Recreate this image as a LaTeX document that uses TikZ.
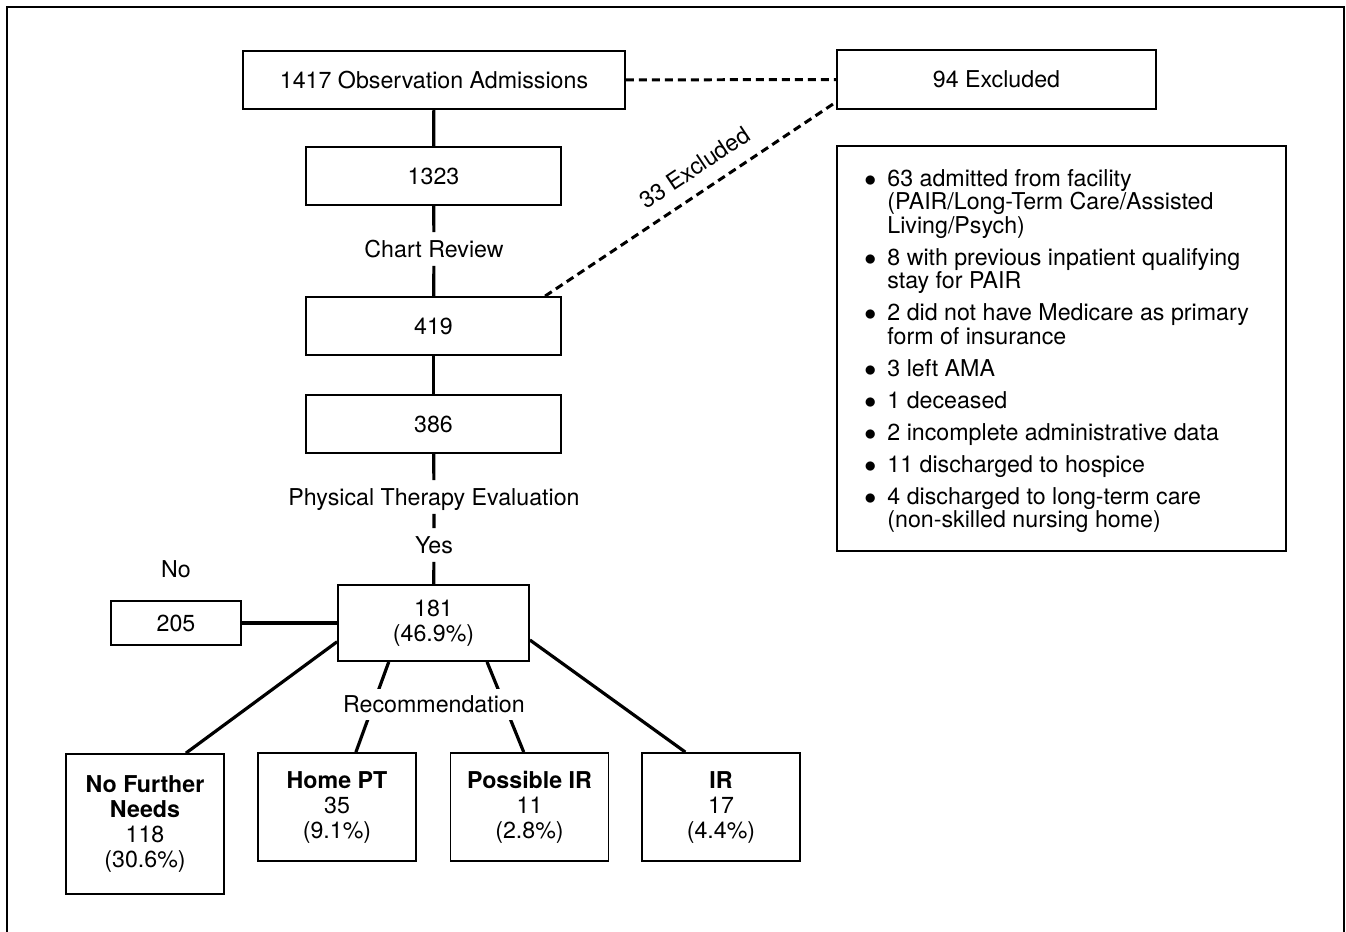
\documentclass[tikz,border=0pt]{standalone}
\usepackage{fontspec}
\setmainfont{TeX Gyre Heros}
\usetikzlibrary{arrows,shapes}
\newcommand{\flowfont}{\fontsize{11.6bp}{12.5bp}\selectfont}
\newcommand{\reasonbullet}{\makebox[11.5bp][l]{$\bullet$}}

\begin{document}
\begin{tikzpicture}[scale=0.5,
  box/.style={draw,line width=0.9pt,inner sep=0pt,align=center,font=\flowfont},
  lbl/.style={inner sep=0pt,minimum height=16.5bp,text height=8.3bp,text depth=0bp,font=\flowfont},
  link/.style={line width=1.6pt},
  cut/.style={line width=1.5pt,dash pattern=on 4bp off 2.5bp}]
\useasboundingbox (0bp,0bp) rectangle (1346bp,-932bp);
\draw [line width=1pt] (7bp,-950bp) -- (7bp,-7bp) -- (1344bp,-7bp) -- (1344bp,-950bp);
\node (adm) at (434bp,-80bp)[box,minimum width=191bp,minimum height=29bp] {1417 Observation Admissions};
\node (exc94) at (996.5bp,-79.5bp)[box,minimum width=159.5bp,minimum height=29.5bp] {94 Excluded};
\node (n1323) at (433.5bp,-176bp)[box,minimum width=127.5bp,minimum height=29bp] {1323};
\node (chart) at (434bp,-249bp)[lbl] {Chart Review};
\node (n419) at (433.5bp,-326bp)[box,minimum width=127.5bp,minimum height=29bp] {419};
\node (n386) at (433.5bp,-424bp)[box,minimum width=127.5bp,minimum height=29bp] {386};
\node (pte) at (434bp,-497bp)[lbl] {Physical Therapy Evaluation};
\node (yes) at (434bp,-545bp)[lbl] {Yes};
\node (n181) at (433.5bp,-623bp)[box,minimum width=95.5bp,minimum height=38bp] {181\\(46.9\%)};
\node (no) at (176bp,-569bp)[lbl] {No};
\node (n205) at (176bp,-623bp)[box,minimum width=65bp,minimum height=22bp] {205};
\node (nfn) at (145bp,-824bp)[box,minimum width=79bp,minimum height=70bp] {\textbf{No Further}\\\textbf{Needs}\\118\\(30.6\%)};
\node (home) at (337bp,-807bp)[box,minimum width=79bp,minimum height=54bp] {\textbf{Home PT}\\35\\(9.1\%)};
\node (pir) at (529.5bp,-807bp)[box,minimum width=79bp,minimum height=54bp] {\textbf{Possible IR}\\11\\(2.8\%)};
\node (ir) at (721bp,-807bp)[box,minimum width=79bp,minimum height=54bp] {\textbf{IR}\\17\\(4.4\%)};
\node (why) at (1061.5bp,-348.5bp)[box,minimum width=224.5bp,minimum height=202.5bp] {};
\node (whylist) at (864bp,-169bp)[anchor=north west,inner sep=0pt,align=left,font=\fontsize{11.6bp}{11.75bp}\selectfont] {%
\reasonbullet 63 admitted from facility\\
\hspace*{11.5bp}(PAIR/Long-Term Care/Assisted\\
\hspace*{11.5bp}Living/Psych)\\[4.25bp]
\reasonbullet 8 with previous inpatient qualifying\\
\hspace*{11.5bp}stay for PAIR\\[4.25bp]
\reasonbullet 2 did not have Medicare as primary\\
\hspace*{11.5bp}form of insurance\\[4.25bp]
\reasonbullet 3 left AMA\\[4.25bp]
\reasonbullet 1 deceased\\[4.25bp]
\reasonbullet 2 incomplete administrative data\\[4.25bp]
\reasonbullet 11 discharged to hospice\\[4.25bp]
\reasonbullet 4 discharged to long-term care\\
\hspace*{11.5bp}(non-skilled nursing home)};
% main column
\draw [link] (adm) -- (n1323);
\draw [link] (n1323) -- (chart) -- (n419);
\draw [link] (n419) -- (n386);
\draw [link] (n386) -- (pte) -- (yes) -- (n181);
\draw [link] (n205) -- (n181);
% recommendations
\draw [link] (n181.191.8) -- (nfn.60.3);
\draw [link] (n181.221.8) -- (home.71.6);
\draw [link] (n181.324.6) -- (pir.96.9);
\draw [link] (n181.350) -- (ir.123.7);
\node (rec) at (434bp,-704bp)[lbl,fill=white,minimum height=15.5bp] {Recommendation};
% exclusions
\draw [cut] (adm) -- (exc94);
\draw [cut] (n419.15.5) -- node[sloped,above=7bp,pos=0.56,font=\flowfont,inner sep=0pt] {33 Excluded} (exc94.188.7);
\end{tikzpicture}
\end{document}
